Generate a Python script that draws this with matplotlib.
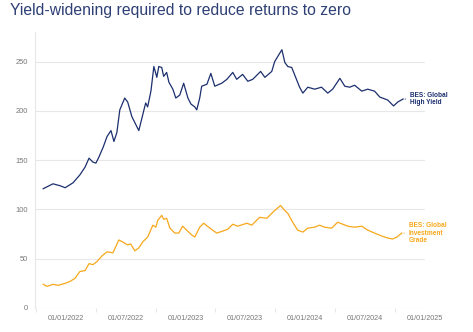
import pandas as pd
import matplotlib
matplotlib.use("Agg")
import matplotlib.pyplot as plt
import matplotlib.dates as mdates

# BES yield-widening series (bp)
hy_dates = [
    "2021-10-23", "2021-11-22", "2021-12-14", "2021-12-29", "2022-01-22",
    "2022-02-12", "2022-02-28", "2022-03-12", "2022-03-24", "2022-04-02",
    "2022-04-11", "2022-04-24", "2022-05-06", "2022-05-18", "2022-05-27",
    "2022-06-05", "2022-06-14", "2022-06-29", "2022-07-08", "2022-07-21",
    "2022-07-30", "2022-08-11", "2022-08-23", "2022-09-01", "2022-09-07",
    "2022-09-17", "2022-09-26", "2022-10-05", "2022-10-11", "2022-10-20",
    "2022-10-26", "2022-11-04", "2022-11-11", "2022-11-23", "2022-12-02",
    "2022-12-14", "2022-12-26", "2023-01-08", "2023-01-17", "2023-01-29",
    "2023-02-04", "2023-02-13", "2023-02-19", "2023-03-07", "2023-03-19",
    "2023-03-31", "2023-04-21", "2023-05-07", "2023-05-25", "2023-06-06",
    "2023-06-24", "2023-07-10", "2023-07-25", "2023-08-18", "2023-08-31",
    "2023-09-21", "2023-09-30", "2023-10-09", "2023-10-22", "2023-10-31",
    "2023-11-09", "2023-11-21", "2023-12-03", "2023-12-15", "2023-12-25",
    "2024-01-09", "2024-01-30", "2024-02-20", "2024-03-10", "2024-03-25",
    "2024-04-16", "2024-05-01", "2024-05-16", "2024-05-31", "2024-06-22",
    "2024-07-10", "2024-07-31", "2024-08-16", "2024-09-09", "2024-09-27",
    "2024-10-10", "2024-10-26",
]
hy_values = [
    121, 126, 124, 122, 127, 135, 143, 152, 148, 147,
    153, 163, 174, 180, 169, 178, 201, 213, 209, 194,
    188, 180, 196, 208, 204, 220, 245, 234, 245, 244,
    235, 239, 229, 222, 213, 216, 228, 213, 207, 204,
    201, 213, 225, 227, 238, 225, 228, 232, 239, 232,
    237, 230, 232, 240, 234, 240, 250, 255, 262, 249,
    245, 244, 234, 224, 218, 224, 222, 224, 218, 222,
    233, 225, 224, 226, 220, 222, 220, 214, 211, 205,
    209, 212,
]

ig_dates = [
    "2021-10-23", "2021-11-04", "2021-11-22", "2021-12-08", "2021-12-29",
    "2022-01-13", "2022-01-28", "2022-02-12", "2022-02-28", "2022-03-12",
    "2022-03-24", "2022-04-05", "2022-04-21", "2022-05-06", "2022-05-24",
    "2022-06-11", "2022-06-23", "2022-07-08", "2022-07-17", "2022-07-30",
    "2022-08-11", "2022-08-23", "2022-09-07", "2022-09-23", "2022-10-02",
    "2022-10-08", "2022-10-20", "2022-10-26", "2022-11-04", "2022-11-14",
    "2022-11-29", "2022-12-11", "2022-12-23", "2023-01-04", "2023-01-20",
    "2023-01-29", "2023-02-13", "2023-02-25", "2023-03-16", "2023-04-06",
    "2023-04-24", "2023-05-10", "2023-05-25", "2023-06-09", "2023-07-07",
    "2023-07-22", "2023-08-15", "2023-09-06", "2023-09-27", "2023-10-18",
    "2023-10-28", "2023-11-09", "2023-11-24", "2023-12-09", "2023-12-25",
    "2024-01-09", "2024-01-30", "2024-02-14", "2024-02-29", "2024-03-22",
    "2024-04-09", "2024-04-25", "2024-05-10", "2024-05-31", "2024-06-22",
    "2024-07-10", "2024-07-31", "2024-08-22", "2024-09-09", "2024-09-24",
    "2024-10-07", "2024-10-22",
]
ig_values = [
    24, 22, 24, 23, 25, 27, 30, 37, 38, 45,
    44, 47, 53, 57, 56, 69, 67, 64, 65, 58,
    61, 67, 72, 84, 82, 89, 94, 90, 91, 81,
    76, 76, 83, 79, 74, 72, 82, 86, 81, 76,
    78, 80, 85, 83, 86, 84, 92, 91, 98, 104,
    100, 96, 87, 79, 77, 81, 82, 84, 82, 81,
    87, 85, 83, 82, 83, 79, 76, 73, 71, 70,
    72, 76,
]

tick_dates = ["2022-01-01", "2022-07-01", "2023-01-01", "2023-07-01",
              "2024-01-01", "2024-07-01", "2025-01-01"]
y_ticks = [0, 50, 100, 150, 200, 250]

navy = "#1c2f6e"
orange = "#f7a81b"

hy_x = pd.to_datetime(hy_dates)
ig_x = pd.to_datetime(ig_dates)

fig = plt.figure(figsize=(4.73, 3.32), dpi=100)
ax = fig.add_axes([35 / 473, 24 / 332, 390 / 473, 276 / 332])

ax.plot(hy_x, hy_values, color=navy, lw=0.9)
ax.plot(ig_x, ig_values, color=orange, lw=0.9)

ax.set_xlim(pd.Timestamp("2021-09-28"), pd.Timestamp("2025-01-01"))
ax.set_ylim(0, 280)

ax.set_yticks(y_ticks)
ax.set_xticks(pd.to_datetime(tick_dates))
ax.xaxis.set_major_formatter(mdates.DateFormatter("%d/%m/%Y"))
ax.xaxis.set_minor_locator(mdates.MonthLocator(bymonth=[4, 10]))
ax.tick_params(axis="x", which="major", length=0, pad=5, labelsize=5.2, labelcolor="#777777")
ax.tick_params(axis="x", which="minor", length=3, color="#e3e3e3")
ax.tick_params(axis="y", length=0, pad=5, labelsize=5.4, labelcolor="#777777")
for lbl in ax.get_xticklabels() + ax.get_yticklabels():
    lbl.set_family("Liberation Sans")

ax.grid(axis="y", color="#e8e8e8", lw=0.8)
ax.set_axisbelow(True)
for side in ["top", "right", "bottom"]:
    ax.spines[side].set_visible(False)
ax.spines["left"].set_color("#e8e8e8")

# end-of-line labels
for xs, ys, col, text in [
    (hy_x, hy_values, navy, "BES: Global\nHigh Yield"),
    (ig_x, ig_values, orange, "BES: Global\nInvestment\nGrade"),
]:
    ax.annotate(text, xy=(xs[-1], ys[-1]), xytext=(5, 0), textcoords="offset points",
                va="center", ha="left", fontsize=4.7, fontweight="bold", color=col,
                family="Liberation Sans", linespacing=1.05, annotation_clip=False,
                arrowprops=dict(arrowstyle="-", color=col, lw=0.6,
                                shrinkA=1.2, shrinkB=1.4))

fig.text(10 / 473, 1 - 3 / 332, "Yield-widening required to reduce returns to zero",
         ha="left", va="top", fontsize=11.3, color="#2d3f75", family="Liberation Sans")

fig.savefig("out.png", dpi=100)
